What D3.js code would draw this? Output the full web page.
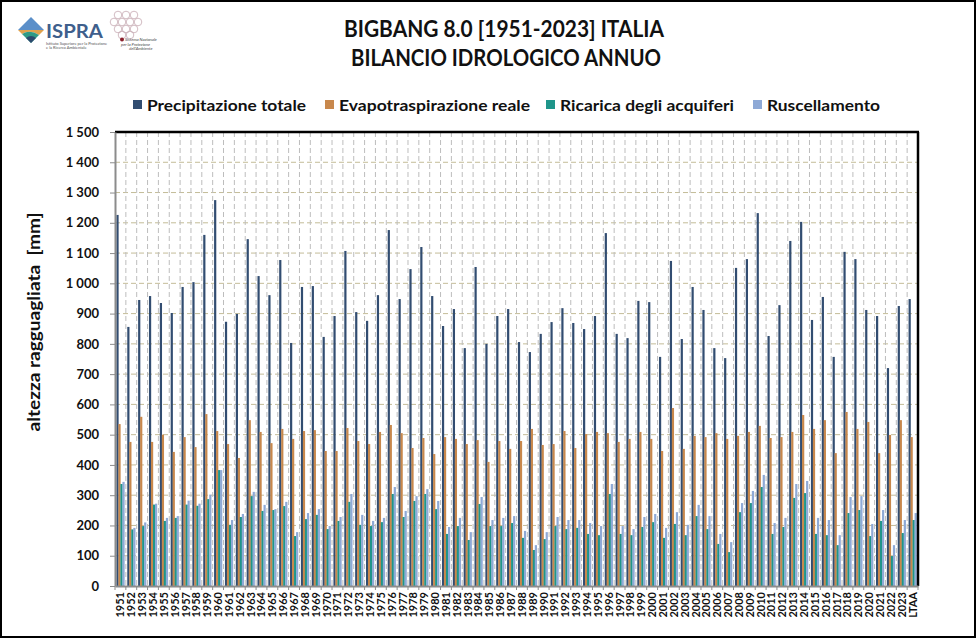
<!DOCTYPE html>
<html><head><meta charset="utf-8">
<script src="https://cdn.jsdelivr.net/npm/d3@7"></script>
<style>
html,body{margin:0;padding:0;background:#fff;}
svg{display:block;font-family:Lato,"Open Sans",sans-serif;}
</style></head>
<body>
<svg id="chart" width="976" height="638"></svg>
<script>
const categories = ["1951","1952","1953","1954","1955","1956","1957","1958","1959","1960",
"1961","1962","1963","1964","1965","1966","1967","1968","1969","1970",
"1971","1972","1973","1974","1975","1976","1977","1978","1979","1980",
"1981","1982","1983","1984","1985","1986","1987","1988","1989","1990",
"1991","1992","1993","1994","1995","1996","1997","1998","1999","2000",
"2001","2002","2003","2004","2005","2006","2007","2008","2009","2010",
"2011","2012","2013","2014","2015","2016","2017","2018","2019","2020",
"2021","2022","2023","LTAA"];

const precipitazione = [1226,856,945,958,935,902,988,1004,1160,1275,
873,899,1146,1024,961,1077,803,988,991,823,
892,1107,905,876,961,1176,948,1047,1120,958,
859,915,786,1054,800,892,915,806,773,833,
872,918,869,849,892,1166,833,819,942,938,
757,1074,816,988,912,786,753,1051,1080,1232,
826,928,1140,1203,879,955,757,1104,1080,912,
892,720,925,948];

const evapotraspirazione = [535,476,559,476,500,443,492,459,568,512,
469,423,548,509,472,519,486,512,515,446,
446,522,479,469,509,532,505,456,489,436,
492,486,469,482,410,479,453,479,519,466,
469,512,456,502,509,505,476,486,509,486,
446,588,453,496,492,505,486,496,509,529,
489,492,509,565,519,548,439,575,519,542,
439,499,548,492];

const ricarica = [337,187,198,269,215,225,269,265,287,383,
202,228,297,248,251,264,165,221,235,188,
215,278,202,198,211,304,228,281,304,254,
172,198,152,271,198,198,208,159,119,155,
198,188,192,172,168,304,172,168,195,211,
159,205,168,231,188,139,112,244,274,327,
172,195,291,307,172,168,135,241,251,165,
215,99,175,218];

const ruscellamento = [344,192,210,272,225,231,282,272,302,383,
218,238,311,268,254,278,178,241,254,198,
228,304,235,215,225,327,248,297,320,281,
195,225,178,294,218,225,231,182,135,178,
228,218,218,208,198,337,198,188,228,238,
192,244,202,268,231,172,145,274,314,367,
208,225,337,347,225,218,168,294,297,205,
251,135,218,241];

const seriesNames = ["Precipitazione totale","Evapotraspirazione reale","Ricarica degli acquiferi","Ruscellamento"];
const seriesColors = ["#324d71","#c8884c","#1f958a","#8ea9d6"];
const yTicks = [0,100,200,300,400,500,600,700,800,900,1000,1100,1200,1300,1400,1500];
const titleLines = ["BIGBANG 8.0 [1951-2023] ITALIA","BILANCIO IDROLOGICO ANNUO"];
const yLabel = "altezza ragguagliata  [mm]";

(function(){
const seriesValues = [precipitazione, evapotraspirazione, ricarica, ruscellamento];
const table = categories.map((c,i)=>({cat:c, vals:seriesNames.map((s,j)=>({s, v:seriesValues[j][i], color:seriesColors[j]}))}));

const svg = d3.select("#chart");
const W=976, H=638;
const pL=115, pR=918, pT=132, pB=586;

svg.append("rect").attr("x",0).attr("y",0).attr("width",W).attr("height",H).attr("fill","#fff");

// logos (approximate)
const logo = svg.append("g");
logo.append("path").attr("d","M18,30 L31,17 L44,30 Z").attr("fill","#5b8fc9");
logo.append("path").attr("d","M18,30 L44,30 L39,35 Q30,29 22,34 Z").attr("fill","#e0a24e");
logo.append("path").attr("d","M22,34 Q30,29 39,35 L31,43 Z").attr("fill","#2f9a86");
logo.append("path").attr("d","M26,38 Q31,34 36,38 L31,43 Z").attr("fill","#2c4a6e");
logo.append("text").attr("x",46).attr("y",38).attr("font-size",19).attr("font-weight","bold")
  .attr("fill","#3f5f8c").attr("textLength",57).attr("lengthAdjust","spacingAndGlyphs").text("ISPRA");
logo.append("text").attr("x",46).attr("y",44.5).attr("font-size",4).attr("fill","#555").text("Istituto Superiore per la Protezione");
logo.append("text").attr("x",46).attr("y",49).attr("font-size",4).attr("fill","#555").text("e la Ricerca Ambientale");
const circ = [[118,15],[126,15],[134,15],[114,22],[122,22],[130,22],[138,22],[118,29],[126,29],[134,29],[122,35],[130,35]];
logo.selectAll("circle.sn").data(circ).join("circle").attr("class","sn")
  .attr("cx",d=>d[0]).attr("cy",d=>d[1]).attr("r",3.8).attr("fill","none").attr("stroke","#c7aab2").attr("stroke-width",0.8);
logo.append("circle").attr("cx",122).attr("cy",39.5).attr("r",2).attr("fill","#8a1f2b");
logo.append("text").attr("x",125).attr("y",41).attr("font-size",4.2).attr("font-style","italic").attr("fill","#444").text("Sistema Nazionale");
logo.append("text").attr("x",121).attr("y",45.5).attr("font-size",4.2).attr("font-style","italic").attr("fill","#444").text("per la Protezione");
logo.append("text").attr("x",129).attr("y",50).attr("font-size",4.2).attr("font-style","italic").attr("fill","#444").text("dell'Ambiente");

// titles
svg.append("text").attr("x",504).attr("y",37).attr("text-anchor","middle").attr("font-size",23).attr("font-weight","bold")
  .attr("fill","#111").attr("textLength",320).attr("lengthAdjust","spacingAndGlyphs").text(titleLines[0]);
svg.append("text").attr("x",506).attr("y",66).attr("text-anchor","middle").attr("font-size",23).attr("font-weight","bold")
  .attr("fill","#111").attr("textLength",310).attr("lengthAdjust","spacingAndGlyphs").text(titleLines[1]);

// legend
const legX = [133,325,546,753];
const legW = [159,191,174,113];
const leg = svg.append("g");
seriesNames.forEach((s,i)=>{
  leg.append("rect").attr("x",legX[i]).attr("y",100).attr("width",9).attr("height",9).attr("fill",seriesColors[i]);
  leg.append("text").attr("x",legX[i]+14).attr("y",110.5).attr("font-size",15.5).attr("font-weight","bold")
    .attr("fill","#111").attr("textLength",legW[i]).attr("lengthAdjust","spacingAndGlyphs").text(s);
});

// scales
const y = d3.scaleLinear().domain([0,1500]).range([pB,pT]);
const x = d3.scaleBand().domain(categories).range([pL,pR]).paddingInner(0.26).paddingOuter(0.13);
const xs = d3.scaleBand().domain(seriesNames).range([0,x.bandwidth()]);
const step = x.step();

// grid
const grid = svg.append("g");
grid.selectAll("line.h").data(yTicks.filter(t=>t>0 && t<1500)).join("line").attr("class","h")
  .attr("x1",pL).attr("x2",pR).attr("y1",d=>y(d)).attr("y2",d=>y(d))
  .attr("stroke","#c4bc98").attr("stroke-width",1).attr("stroke-dasharray","5,3");
grid.selectAll("line.v").data(d3.range(1,categories.length)).join("line").attr("class","v")
  .attr("x1",k=>pL+k*step).attr("x2",k=>pL+k*step).attr("y1",pT).attr("y2",pB)
  .attr("stroke","#bdbdbd").attr("stroke-width",1).attr("stroke-dasharray","5,3");

// bars
const groups = svg.append("g").selectAll("g").data(table).join("g")
  .attr("transform",d=>`translate(${x(d.cat)},0)`);
groups.selectAll("rect").data(d=>d.vals).join("rect")
  .attr("x",d=>xs(d.s)).attr("width",xs.bandwidth()+0.2)
  .attr("y",d=>y(d.v)).attr("height",d=>y(0)-y(d.v)).attr("fill",d=>d.color);

// plot frame top/right
svg.append("line").attr("x1",pL).attr("x2",pR+1).attr("y1",pT).attr("y2",pT).attr("stroke","#000").attr("stroke-width",2.5);
svg.append("line").attr("x1",pR).attr("x2",pR).attr("y1",pT).attr("y2",pB).attr("stroke","#000").attr("stroke-width",2.5);

// y axis
const fmt = d3.formatLocale({decimal:",",thousands:" ",grouping:[3],currency:["",""]}).format(",");
const yAxis = svg.append("g").attr("transform",`translate(${pL},0)`)
  .call(d3.axisLeft(y).tickValues(yTicks).tickFormat(fmt).tickSizeInner(5).tickSizeOuter(0).tickPadding(11));
yAxis.select(".domain").attr("stroke","#8c8c8c").attr("stroke-width",2);
yAxis.selectAll(".tick line").attr("stroke","#8c8c8c");
yAxis.selectAll("text").attr("font-family","Lato,sans-serif").attr("font-size",13).attr("font-weight","bold").attr("fill","#111");

// x axis
const xAxis = svg.append("g").attr("transform",`translate(0,${pB})`)
  .call(d3.axisBottom(x).tickSize(0).tickPadding(0));
xAxis.select(".domain").attr("stroke","#8c8c8c").attr("stroke-width",2);
xAxis.selectAll("text").attr("font-family","Lato,sans-serif").attr("font-size",11).attr("font-weight","bold").attr("fill","#111")
  .attr("transform","rotate(-90)").attr("x",-6).attr("y",0).attr("dy","0.36em").attr("text-anchor","end");
svg.append("g").selectAll("line").data(d3.range(0,categories.length+1)).join("line")
  .attr("x1",k=>pL+k*step).attr("x2",k=>pL+k*step).attr("y1",pB).attr("y2",pB+4)
  .attr("stroke","#8c8c8c").attr("stroke-width",1);

// y label
svg.append("text").attr("transform","translate(40,322) rotate(-90)").attr("text-anchor","middle")
  .attr("font-size",17).attr("font-weight","bold").attr("fill","#111").style("white-space","pre")
  .attr("textLength",219).attr("lengthAdjust","spacingAndGlyphs").text(yLabel);

// outer frame
svg.append("rect").attr("x",1).attr("y",1).attr("width",W-2).attr("height",H-2).attr("fill","none").attr("stroke","#000").attr("stroke-width",2);
})();
</script>
</body></html>
